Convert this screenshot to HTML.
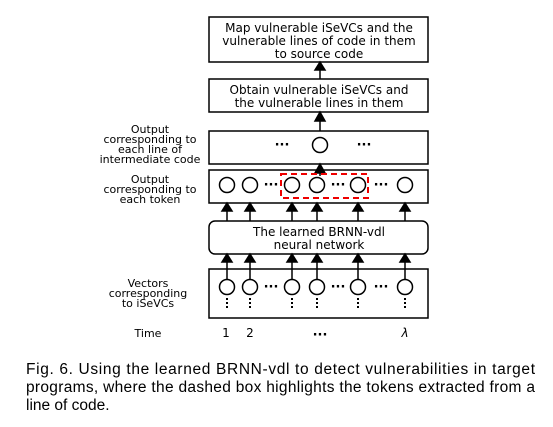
<!DOCTYPE html>
<html><head><meta charset="utf-8"><style>
html,body{margin:0;padding:0;background:#fff;width:553px;height:427px;overflow:hidden}
svg{display:block}
.c{font-family:"DejaVu Sans","Liberation Sans",sans-serif;font-size:12px;fill:#000}
.d{font-family:"DejaVu Sans",sans-serif;font-size:13px;font-weight:bold;fill:#000}
.l{font-family:"DejaVu Sans","Liberation Sans",sans-serif;font-size:11px;fill:#000}
.cap{font-family:"Liberation Sans",sans-serif;font-size:15.5px;fill:#000}
</style></head><body>
<svg width="553" height="427" viewBox="0 0 553 427" xmlns="http://www.w3.org/2000/svg">
<g stroke="#000" stroke-width="1.5" fill="#fff">
<rect x="209" y="17" width="219" height="45"/>
<rect x="209" y="79" width="219" height="33"/>
<rect x="209" y="131" width="219" height="33"/>
<rect x="209" y="170" width="219" height="33"/>
<rect x="209" y="221" width="219" height="33" rx="6"/>
<rect x="209" y="269" width="219" height="49"/>
</g>
<g stroke="#000" stroke-width="1.5">
<line x1="320" y1="79" x2="320" y2="64"/><path d="M315,70 L320,62 L325,70Z"/>
<line x1="320" y1="131" x2="320" y2="116"/><path d="M315,121 L320,112 L325,121Z"/>
<line x1="320" y1="176" x2="320" y2="168"/><path d="M315,173 L320,164 L325,173Z"/>
</g>
<g stroke="#000" stroke-width="1.5" fill="#000">
<path d="M227,221V207 M250,221V207 M292,221V207 M317,221V207 M358,221V207 M405,221V207" fill="none"/>
<path d="M222,211L227,203L232,211Z M245,211L250,203L255,211Z M287,211L292,203L297,211Z M312,211L317,203L322,211Z M353,211L358,203L363,211Z M400,211L405,203L410,211Z"/>
<path d="M227,280V258 M250,280V258 M292,280V258 M317,280V258 M358,280V258 M405,280V258" fill="none"/>
<path d="M222,262L227,254L232,262Z M245,262L250,254L255,262Z M287,262L292,254L297,262Z M312,262L317,254L322,262Z M353,262L358,254L363,262Z M400,262L405,254L410,262Z"/>
</g>
<g stroke="#000" stroke-width="1.5" fill="#fff">
<circle cx="320" cy="145" r="7.5"/>
<circle cx="227" cy="185" r="7.5"/><circle cx="250" cy="185" r="7.5"/><circle cx="292" cy="185" r="7.5"/><circle cx="317" cy="185" r="7.5"/><circle cx="358" cy="185" r="7.5"/><circle cx="405" cy="185" r="7.5"/>
<circle cx="227" cy="287" r="7.5"/><circle cx="250" cy="287" r="7.5"/><circle cx="292" cy="287" r="7.5"/><circle cx="317" cy="287" r="7.5"/><circle cx="358" cy="287" r="7.5"/><circle cx="405" cy="287" r="7.5"/>
</g>
<rect x="281" y="174" width="87" height="24" fill="none" stroke="#e00" stroke-width="2" stroke-dasharray="6,4"/>
<g fill="#000">
<g id="vd"><rect x="226" y="298" width="2" height="2"/><rect x="226" y="302" width="2" height="2"/><rect x="226" y="306" width="2" height="2"/></g>
<use href="#vd" x="23"/><use href="#vd" x="65"/><use href="#vd" x="90"/><use href="#vd" x="131"/><use href="#vd" x="178"/>
</g>
<g class="c" text-anchor="middle">
<text x="319" y="32">Map vulnerable iSeVCs and the</text>
<text x="319" y="45">vulnerable lines of code in them</text>
<text x="319" y="58">to source code</text>
<text x="319" y="94">Obtain vulnerable iSeVCs and</text>
<text x="319" y="107">the vulnerable lines in them</text>
<text x="319" y="236">The learned BRNN-vdl</text>
<text x="319" y="249">neural network</text>
<text x="226" y="337">1</text><text x="250" y="337">2</text><text x="405" y="337" font-style="italic">λ</text>
</g>
<g class="d" text-anchor="middle">
<text x="282" y="149">···</text><text x="364" y="149">···</text>
<text x="271" y="189">···</text><text x="338" y="189">···</text><text x="381" y="189">···</text>
<text x="271" y="291">···</text><text x="338" y="291">···</text><text x="381" y="291">···</text>
<text x="320" y="339">···</text>
</g>
<g class="l" text-anchor="middle">
<text x="150" y="133">Output</text>
<text x="150" y="143">corresponding to</text>
<text x="150" y="153">each line of</text>
<text x="150" y="163">intermediate code</text>
<text x="150" y="183">Output</text>
<text x="150" y="193">corresponding to</text>
<text x="150" y="203">each token</text>
<text x="148" y="287">Vectors</text>
<text x="148" y="297">corresponding</text>
<text x="148" y="307">to iSeVCs</text>
<text x="148" y="337">Time</text>
</g>
<g class="cap">
<text x="26" y="374" textLength="509" lengthAdjust="spacing">Fig. 6. Using the learned BRNN-vdl to detect vulnerabilities in target</text>
<text x="26" y="392" textLength="509" lengthAdjust="spacing">programs, where the dashed box highlights the tokens extracted from a</text>
<text x="26" y="410">line of code.</text>
</g>
</svg>
</body></html>
